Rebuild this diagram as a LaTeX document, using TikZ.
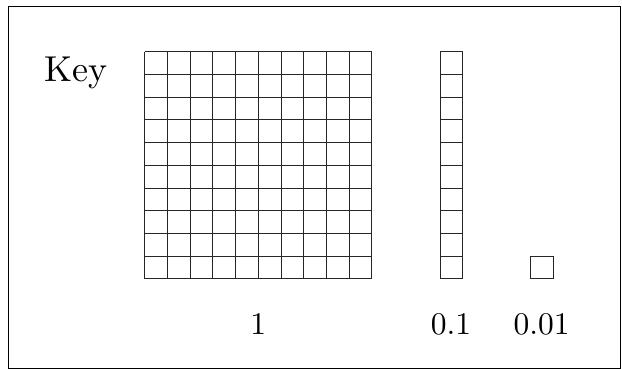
\documentclass[tikz,border=0pt]{standalone}
\usepackage{fontspec}
\setmainfont{lmroman10-regular.otf}
\begin{document}
\begin{tikzpicture}[x=1pt,y=-1pt,
  gridline/.style={line width=0.8pt, draw=black!85},
  lbl/.style={anchor=base, inner sep=0pt, font=\fontsize{31.5}{36}\selectfont},
  keylbl/.style={anchor=base, inner sep=0pt, font=\fontsize{36}{42}\selectfont}]
\useasboundingbox (0,0) rectangle (622,369);
\draw[line width=0.9pt] (8.5,6) rectangle (620,368);
\def\s{22.7}
% big 10x10 grid
\foreach \i in {0,...,10} {
  \draw[gridline] ({144.7+\i*\s},51.7) -- ({144.7+\i*\s},278.7);
  \draw[gridline] (144.7,{51.7+\i*\s}) -- (371.7,{51.7+\i*\s});
}
% column of ten
\draw[gridline] (440,51.7) rectangle (462.7,278.7);
\foreach \i in {1,...,9} {
  \draw[gridline] (440,{51.7+\i*\s}) -- (462.7,{51.7+\i*\s});
}
% single square
\draw[gridline] (530.5,256) rectangle (553.2,278.7);
% labels
\node[keylbl] (key) at (75.8,82) {Key};
\node[lbl] (one) at (258.2,334) {1};
\node[lbl] (tenth) at (451,334) {0.1};
\node[lbl] (hundredth) at (541.5,334) {0.01};
\end{tikzpicture}
\end{document}
